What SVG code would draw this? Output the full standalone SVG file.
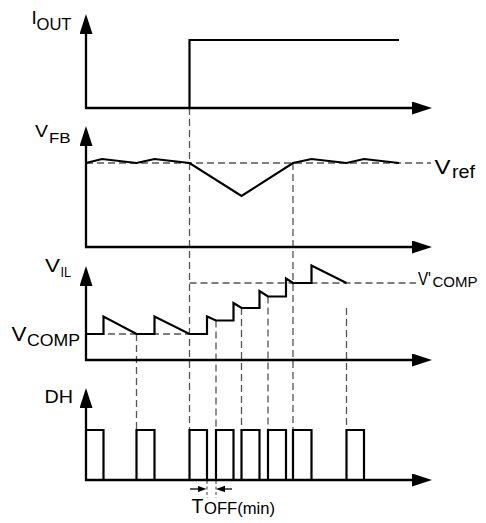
<svg xmlns="http://www.w3.org/2000/svg" width="486" height="523" viewBox="0 0 486 523">
<defs>
<marker id="ah" markerUnits="userSpaceOnUse" markerWidth="21" markerHeight="13" refX="1" refY="6.5" orient="auto-start-reverse" viewBox="0 0 21 13"><path d="M0,0 L20,6.5 L0,13 z" fill="#000"/></marker>
<marker id="sa" markerUnits="userSpaceOnUse" markerWidth="10" markerHeight="7" refX="0.5" refY="3.25" orient="auto" viewBox="0 0 10 7"><path d="M0,0 L9,3.25 L0,6.5 z" fill="#000"/></marker>
<style>
.ax{fill:none;stroke:#000;stroke-width:2.3;marker-start:url(#ah);marker-end:url(#ah)}
.wf{fill:none;stroke:#000;stroke-width:2.2;stroke-linejoin:miter}
.ds{fill:none;stroke:#555;stroke-width:1.3;stroke-dasharray:7 4}
.ds2{fill:none;stroke:#555;stroke-width:1.1;stroke-dasharray:3 2.5}
text{font-family:"Liberation Sans",Arial,sans-serif;fill:#000}
</style>
</defs>
<rect width="486" height="523" fill="#fff"/>
<g id="connectors">
<path class="ds" d="M189.5,108 V430"/>
<path class="ds" d="M293,163 V430"/>
<path class="ds" d="M86,163 H431"/>
<path class="ds" d="M136.5,334 V430"/>
<path class="ds" d="M216,320.5 V430"/>
<path class="ds" d="M241.5,308 V430"/>
<path class="ds" d="M268,296.5 V430"/>
<path class="ds" d="M346.5,308 V430"/>
<path class="ds" d="M86,334 H189.5"/>
<path class="ds" d="M189.5,283 H416"/>
<path class="ds2" d="M207,481 V498"/>
<path class="ds2" d="M216,481 V498"/>
<line x1="190" y1="489" x2="198" y2="489" stroke="#000" stroke-width="1.3" marker-end="url(#sa)"/>
<line x1="232" y1="489" x2="224.5" y2="489" stroke="#000" stroke-width="1.3" marker-end="url(#sa)"/>
</g>
<g id="iout">
<path class="ax" d="M86,33 V108 H413"/>
<path class="wf" d="M189.5,108 V40 H399"/>
<text x="31.5" y="24" font-size="19">I<tspan x="36.5" y="29.5" font-size="17" textLength="35" lengthAdjust="spacingAndGlyphs">OUT</tspan></text>
</g>
<g id="vfb">
<path class="ax" d="M86,145 V247 H413"/>
<path class="wf" d="M86,163 L102,159 L136.5,163 L154.5,159 L189.5,163 L241.5,196 L293,163 L311.5,159 L346.5,163 L364,159 L399,163"/>
<text x="35" y="136.7" font-size="17" textLength="13" lengthAdjust="spacingAndGlyphs">V</text>
<text x="49" y="142.7" font-size="14" textLength="21.7" lengthAdjust="spacingAndGlyphs">FB</text>
<text x="434.5" y="173.5" font-size="21" textLength="16" lengthAdjust="spacingAndGlyphs">V</text>
<text x="452" y="178" font-size="18" textLength="23" lengthAdjust="spacingAndGlyphs">ref</text>
</g>
<g id="vil">
<path class="ax" d="M86,285 V360 H413"/>
<path class="wf" d="M86,334 H103.5 V316.5 L136.5,334 H154.5 V316.5 L189.5,334 H207 V316.5 L216,320.5 H233.5 V303 L241.5,308 H259.5 V291 L268,296.5 H286 V278.5 L293,283 H311.5 V265.5 L346.5,283"/>
<text x="45" y="271.7" font-size="19" textLength="15" lengthAdjust="spacingAndGlyphs">V</text>
<text x="60.5" y="276.7" font-size="14" textLength="10.5" lengthAdjust="spacingAndGlyphs">IL</text>
<text x="11.5" y="341" font-size="20" textLength="15" lengthAdjust="spacingAndGlyphs">V</text>
<text x="27" y="345.7" font-size="17" textLength="53" lengthAdjust="spacingAndGlyphs">COMP</text>
<text x="418" y="285" font-size="19" textLength="13" lengthAdjust="spacingAndGlyphs">V'</text>
<text x="432.5" y="286.5" font-size="15" textLength="45" lengthAdjust="spacingAndGlyphs">COMP</text>
</g>
<g id="dh">
<path class="ax" d="M86,407 V480 H413"/>
<path class="wf" d="M86,430 H103.5 V480 M136.5,480 V430 H154.5 V480 M189.5,480 V430 H207 V480 M216,480 V430 H233.5 V480 M241.5,480 V430 H259.5 V480 M268,480 V430 H286 V480 M293,480 V430 H311.5 V480 M346.5,480 V430 H364 V480"/>
<text x="44.5" y="402.7" font-size="18" textLength="28.5" lengthAdjust="spacingAndGlyphs">DH</text>
<text x="191.5" y="512.5" font-size="19.5">T</text>
<text x="204" y="514" font-size="16" textLength="71" lengthAdjust="spacingAndGlyphs">OFF(min)</text>
</g>
</svg>
